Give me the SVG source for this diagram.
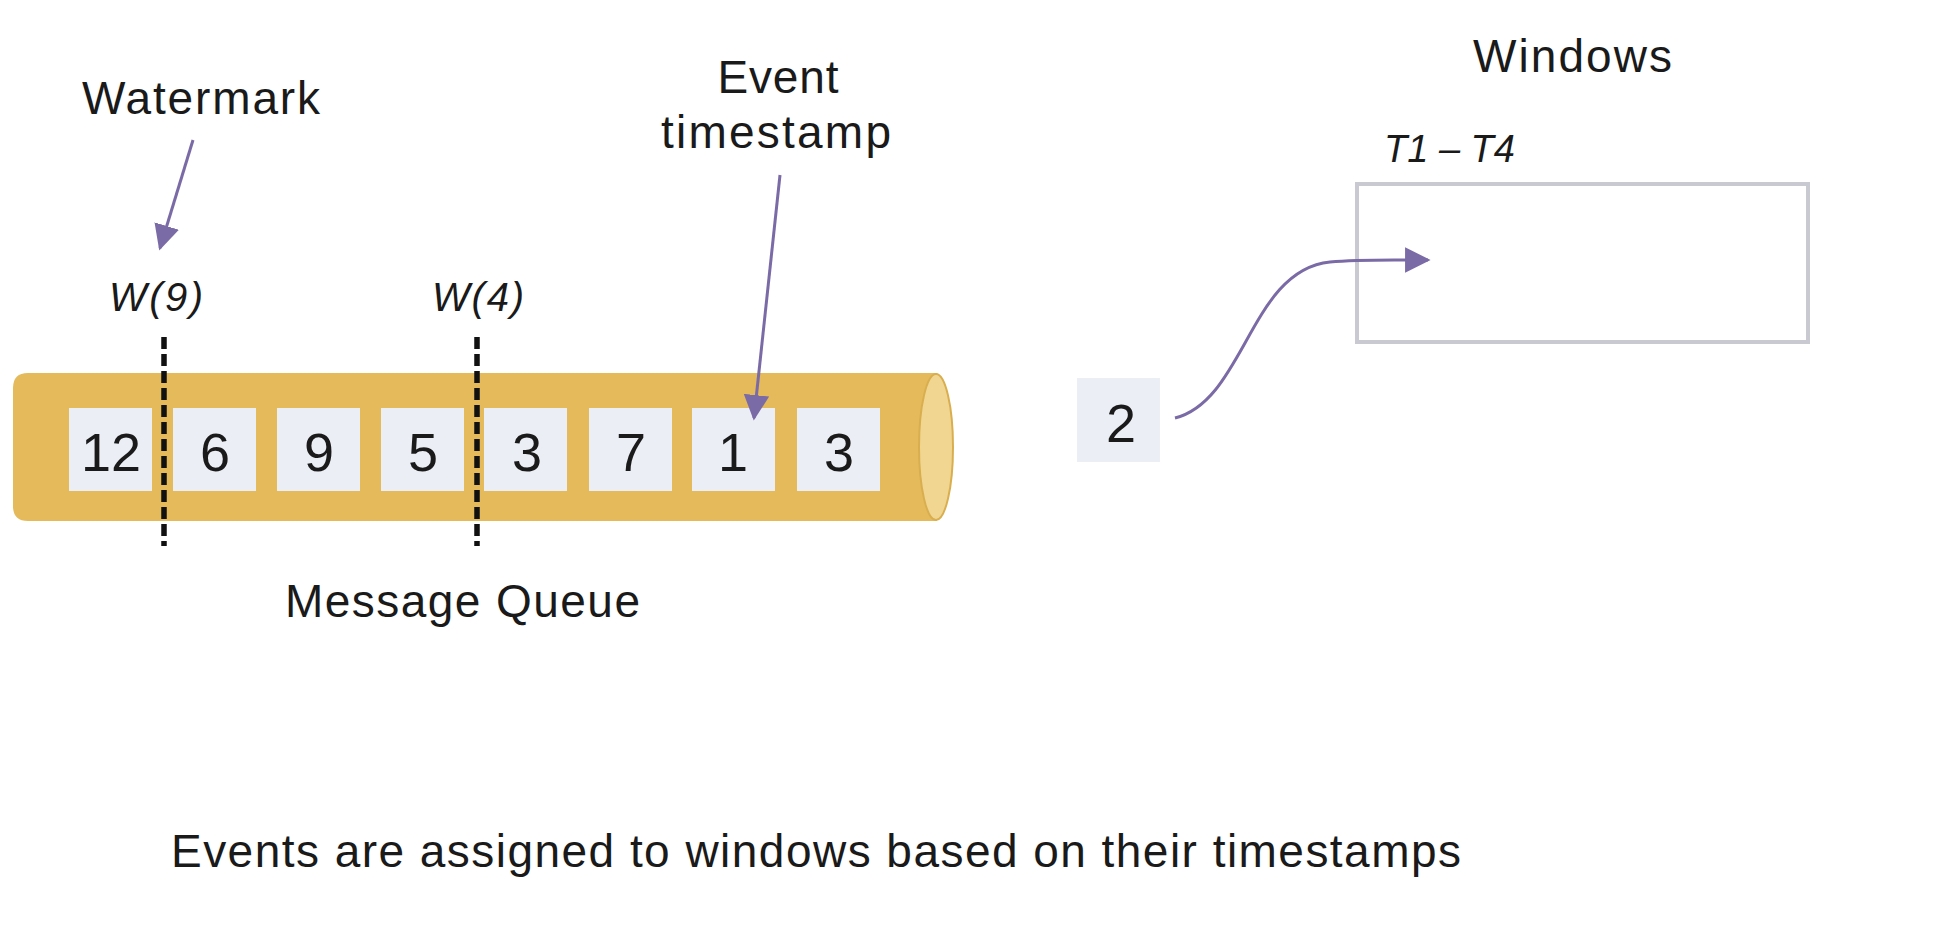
<svg xmlns="http://www.w3.org/2000/svg" width="1942" height="948" viewBox="0 0 1942 948">
<defs>
<style>
.t{font-family:"Liberation Sans","Lato",sans-serif;fill:#1a1a1a}
.lbl{font-size:46px}
.it{font-style:italic;font-size:40px}
.num{font-size:54px;text-anchor:middle}
.box{fill:#EBEEF5}
.dash{stroke:#111;stroke-width:5.5;stroke-dasharray:12 5;fill:none}
.arr{stroke:#7A6BA6;stroke-width:3;fill:none}
</style>
<marker id="ah2" viewBox="0 0 10 10" refX="9" refY="5" markerWidth="8.5" markerHeight="8.5" orient="auto">
<path d="M0,0 L10,5 L0,10 Z" fill="#7A6BA6"/>
</marker>
</defs>
<rect width="1942" height="948" fill="#fff"/>

<g id="queue">
<path d="M28,373 H937 V521 H28 Q13,521 13,506 V388 Q13,373 28,373 Z" fill="#E4BA5B"/>
<ellipse cx="936" cy="447" rx="17" ry="73" fill="#F0D690" stroke="#D9AE4E" stroke-width="2"/>
</g>

<g id="e12"><rect class="box" x="69" y="408" width="83" height="83"/><text class="t num" x="111" y="471">12</text></g>
<g id="e6"><rect class="box" x="173" y="408" width="83" height="83"/><text class="t num" x="215" y="471">6</text></g>
<g id="e9"><rect class="box" x="277" y="408" width="83" height="83"/><text class="t num" x="319" y="471">9</text></g>
<g id="e5"><rect class="box" x="381" y="408" width="83" height="83"/><text class="t num" x="423" y="471">5</text></g>
<g id="e3a"><rect class="box" x="484" y="408" width="83" height="83"/><text class="t num" x="527" y="471">3</text></g>
<g id="e7"><rect class="box" x="589" y="408" width="83" height="83"/><text class="t num" x="631" y="471">7</text></g>
<g id="e1"><rect class="box" x="692" y="408" width="83" height="83"/><text class="t num" x="733" y="471">1</text></g>
<g id="e3b"><rect class="box" x="797" y="408" width="83" height="83"/><text class="t num" x="839" y="471">3</text></g>

<g id="w9"><line class="dash" x1="164" y1="337" x2="164" y2="546"/><text class="t it" x="109" y="311" textLength="94">W(9)</text></g>
<g id="w4"><line class="dash" x1="477" y1="337" x2="477" y2="546"/><text class="t it" x="432" y="311" textLength="92">W(4)</text></g>

<g id="lbl-watermark"><text class="t lbl" x="82" y="114" textLength="238">Watermark</text></g>
<g id="lbl-event"><text class="t lbl" x="778" y="93" text-anchor="middle" textLength="121">Event</text><text class="t lbl" x="776" y="148" text-anchor="middle" textLength="230">timestamp</text></g>
<g id="lbl-mq"><text class="t lbl" x="285" y="617" textLength="355">Message Queue</text></g>

<g id="windows">
<text class="t lbl" x="1473" y="72" textLength="199">Windows</text>
<text class="t it" style="font-size:38px" x="1384" y="162">T1 – T4</text>
<rect x="1357" y="184" width="451" height="158" fill="none" stroke="#C9C9D1" stroke-width="4"/>
</g>

<g id="e2"><rect class="box" x="1077" y="378" width="83" height="84"/><text class="t num" x="1121" y="442">2</text></g>

<g id="connectors">
<line class="arr" x1="193" y1="140" x2="160" y2="248" marker-end="url(#ah2)"/>
<line class="arr" x1="780" y1="175" x2="754" y2="418" marker-end="url(#ah2)"/>
<path class="arr" d="M1175,418 C1245,400 1250,270 1330,262 C1360,259 1390,260 1428,260" marker-end="url(#ah2)"/>
</g>

<g id="caption"><text class="t" style="font-size:46px" x="171" y="867" textLength="1290">Events are assigned to windows based on their timestamps</text></g>
</svg>
